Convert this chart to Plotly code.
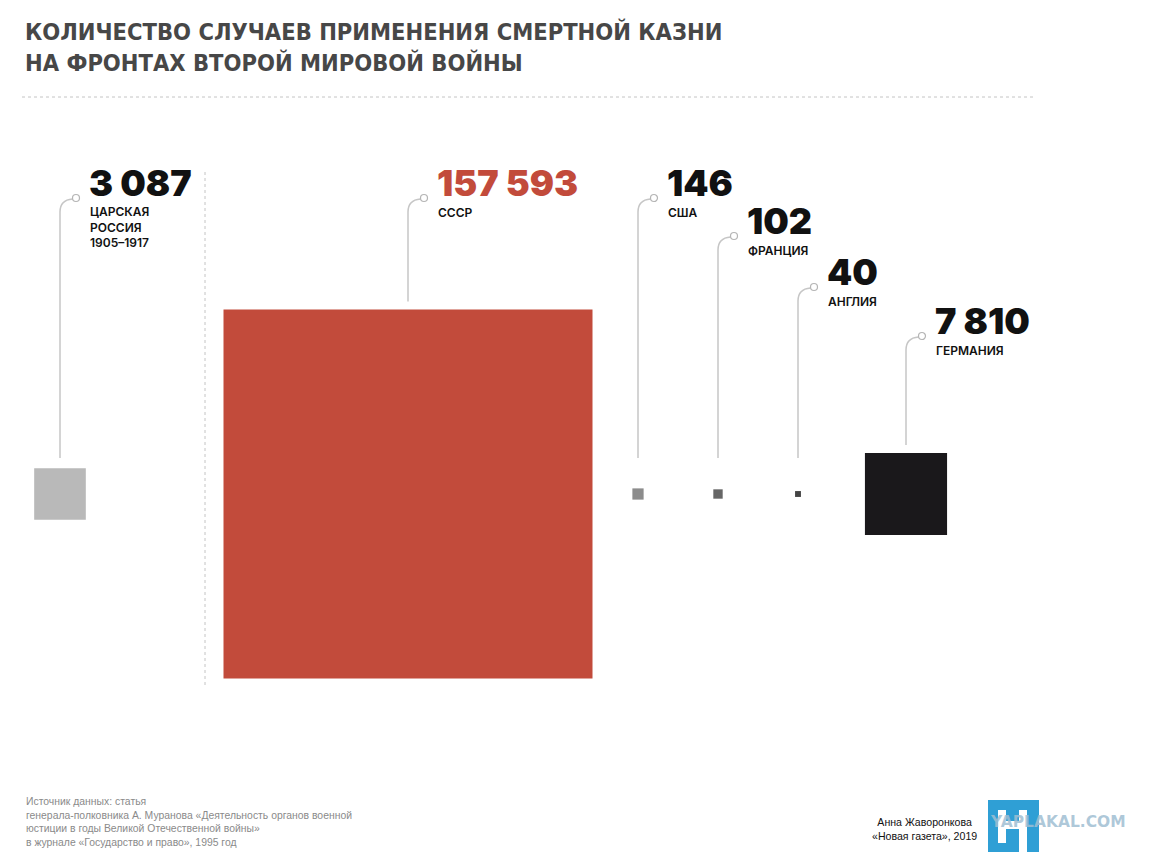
import numpy as np
import plotly.graph_objects as go

# Data
countries = ["ЦАРСКАЯ<br>РОССИЯ<br>1905–1917", "СССР", "США", "ФРАНЦИЯ", "АНГЛИЯ", "ГЕРМАНИЯ"]
values = [3087, 157593, 146, 102, 40, 7810]

# Styles / layout (pixel space of the page)
colors = ["#b9b9b9", "#c24b3b", "#8c8c8c", "#666666", "#444444", "#1a181b"]
number_colors = ["#111111", "#c24b3b", "#111111", "#111111", "#111111", "#111111"]
x_centers = [60, 408, 638, 718, 798, 906]
num_y = [183, 183, 183, 221, 272, 321]
square_mid = 494
px_per_unit = 369 / np.sqrt(max(values))
line_color = "#c6c6c6"

W, H = 1152, 852
OFF = 8  # page body margin, so axis units equal screen pixels
fig = go.Figure()
fig.add_trace(go.Scatter(x=[OFF, W], y=[OFF, H], mode="markers", marker=dict(opacity=0),
                         hoverinfo="skip", showlegend=False))

shapes = []
annotations = []

for name, v, col, ncol, cx, ny in zip(countries, values, colors, number_colors, x_centers, num_y):
    side = px_per_unit * np.sqrt(v)
    top = square_mid - side / 2
    shapes.append(dict(type="rect", xref="x", yref="y",
                       x0=cx - side / 2, x1=cx + side / 2, y0=top, y1=square_mid + side / 2,
                       fillcolor=col, line=dict(width=0), layer="above"))
    # leader line
    cy = ny + 15
    bottom = min(top - 8, 458)
    path = f"M {cx},{bottom} L {cx},{cy + 14} Q {cx},{cy + 2} {cx + 12.5},{cy + 1}"
    shapes.append(dict(type="path", xref="x", yref="y", path=path,
                       line=dict(color=line_color, width=1.5)))
    shapes.append(dict(type="circle", xref="x", yref="y",
                       x0=cx + 12.5, x1=cx + 19.5, y0=cy - 3.5, y1=cy + 3.5,
                       fillcolor="white", line=dict(color="#b5b5b5", width=1.2)))
    # number
    annotations.append(dict(x=cx + 27, y=ny, xref="x", yref="y", xanchor="left", yanchor="middle",
                            text=f"{v:,}".replace(",", " "), showarrow=False,
                            font=dict(family="Inter", size=36, color=ncol, weight=900)))
    nlines = name.count("<br>") + 1
    annotations.append(dict(x=cx + 28, y=ny + 29 + (nlines - 1) * 7.5, xref="x", yref="y",
                            xanchor="left", yanchor="middle", align="left",
                            text=name, showarrow=False,
                            font=dict(family="Inter", size=12, color="#111111", weight=600)))

# dotted separators
shapes.append(dict(type="line", xref="x", yref="y", x0=22, x1=1035, y0=97, y1=97,
                   line=dict(color="#c4c4c4", width=1, dash="dot")))
shapes.append(dict(type="line", xref="x", yref="y", x0=205, x1=205, y0=172, y1=686,
                   line=dict(color="#c4c4c4", width=1, dash="dot")))

# logo
shapes.append(dict(type="rect", xref="x", yref="y", x0=988, x1=1039, y0=800, y1=860,
                   fillcolor="#2f9fd5", line=dict(width=0)))
for x0, x1, y0, y1 in [(998, 1006, 810, 843), (1006, 1019, 821, 829), (1019, 1027, 810, 860)]:
    shapes.append(dict(type="rect", xref="x", yref="y", x0=x0, x1=x1, y0=y0, y1=y1,
                       fillcolor="white", line=dict(width=0)))

# title
annotations.append(dict(x=23, y=47, xref="x", yref="y", xanchor="left", yanchor="middle", align="left",
                        text="КОЛИЧЕСТВО СЛУЧАЕВ ПРИМЕНЕНИЯ СМЕРТНОЙ КАЗНИ<br>НА ФРОНТАХ ВТОРОЙ МИРОВОЙ ВОЙНЫ",
                        showarrow=False,
                        font=dict(family="DejaVu Sans Condensed, Liberation Sans Narrow, Arial Narrow", size=23.5,
                                  color="#474747", weight=700)))

# source
annotations.append(dict(x=24, y=822, xref="x", yref="y", xanchor="left", yanchor="middle", align="left",
                        text="Источник данных: статья<br>генерала-полковника А. Муранова «Деятельность органов военной<br>"
                             "юстиции в годы Великой Отечественной войны»<br>в журнале «Государство и право», 1995 год",
                        showarrow=False,
                        font=dict(family="Liberation Sans, Arial", size=10.4, color="#8a8a8a")))

# author
annotations.append(dict(x=924, y=829, xref="x", yref="y", xanchor="center", yanchor="middle", align="center",
                        text="Анна Жаворонкова<br>«Новая газета», 2019", showarrow=False,
                        font=dict(family="Liberation Sans, Arial", size=10.6, color="#111111")))

# watermark
annotations.append(dict(x=988, y=822, xref="x", yref="y", xanchor="left", yanchor="middle",
                        text="YAPLAKAL.COM", showarrow=False,
                        font=dict(family="DejaVu Sans", size=15.5, color="rgba(160,190,210,0.85)", weight=700)))

fig.update_layout(
    width=W, height=H,
    margin=dict(l=0, r=0, t=0, b=0),
    paper_bgcolor="white", plot_bgcolor="white",
    xaxis=dict(range=[OFF, W + OFF], visible=False, fixedrange=True),
    yaxis=dict(range=[H + OFF, OFF], visible=False, fixedrange=True),
    shapes=shapes, annotations=annotations,
    showlegend=False,
)

fig.write_html("out.html")
